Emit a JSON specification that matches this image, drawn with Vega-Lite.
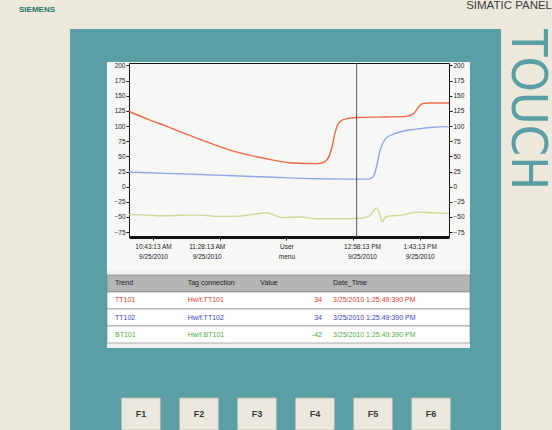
{
  "$schema": "https://vega.github.io/schema/vega-lite/v6.json",
  "background": "#5a9ea6",
  "padding": 0,
  "spacing": 0,
  "config": {
    "font": "Liberation Sans",
    "view": {"stroke": null},
    "concat": {"spacing": 0},
    "axis": {"labelFont": "Liberation Sans", "grid": false}
  },
  "vconcat": [
    {
      "spacing": 0,
      "hconcat": [
        {
          "width": 70,
          "height": 29,
          "view": {"fill": "#ece9dc", "stroke": null},
          "title": {"text": "SIEMENS", "orient": "top", "anchor": "start", "frame": "group", "offset": -20, "dx": 19, "baseline": "alphabetic", "fontSize": 8, "fontWeight": "bold", "color": "#1a7565"},
          "data": {"values": [{}]},
          "mark": {"type": "text", "text": ""},
          "encoding": {}
        },
        {
          "width": 482,
          "height": 29,
          "view": {"fill": "#ece9dc", "stroke": null},
          "title": {"text": "SIMATIC PANEL", "orient": "top", "anchor": "end", "frame": "group", "offset": -20.5, "baseline": "alphabetic", "fontSize": 11.5, "fontWeight": "normal", "color": "#3d3d3d"},
          "data": {"values": [{}]},
          "mark": {"type": "text", "text": ""},
          "encoding": {}
        }
      ]
    },
    {
      "spacing": 0,
      "hconcat": [
        {
          "width": 70,
          "height": 401,
          "view": {"fill": "#ece9dc", "stroke": null},
          "data": {"values": [{}]},
          "mark": {"type": "text", "text": ""},
          "encoding": {}
        },
        {
          "spacing": 0,
          "resolve": {"scale": {"color": "independent", "fill": "independent"}},
          "vconcat": [
            {
              "width": 394,
              "height": 33,
              "data": {"values": [{}]},
              "mark": {"type": "text", "text": ""},
              "encoding": {}
            },
            {
              "width": 363,
              "height": 208,
              "view": {"fill": "#f7f7f5", "stroke": null},
              "layer": [
                {
                  "data": {"values": [
                    {"trend": "TT101", "time": "2010-09-25T10:27:00", "value": 124},
                    {"trend": "TT101", "time": "2010-09-25T10:40:00", "value": 111},
                    {"trend": "TT101", "time": "2010-09-25T10:52:00", "value": 100},
                    {"trend": "TT101", "time": "2010-09-25T11:15:00", "value": 78},
                    {"trend": "TT101", "time": "2010-09-25T11:37:00", "value": 59},
                    {"trend": "TT101", "time": "2010-09-25T12:00:00", "value": 46},
                    {"trend": "TT101", "time": "2010-09-25T12:18:00", "value": 39},
                    {"trend": "TT101", "time": "2010-09-25T12:34:00", "value": 38},
                    {"trend": "TT101", "time": "2010-09-25T12:39:00", "value": 41},
                    {"trend": "TT101", "time": "2010-09-25T12:42:00", "value": 50},
                    {"trend": "TT101", "time": "2010-09-25T12:44:00", "value": 65},
                    {"trend": "TT101", "time": "2010-09-25T12:46:00", "value": 88},
                    {"trend": "TT101", "time": "2010-09-25T12:48:00", "value": 103},
                    {"trend": "TT101", "time": "2010-09-25T12:51:00", "value": 110},
                    {"trend": "TT101", "time": "2010-09-25T12:56:00", "value": 113},
                    {"trend": "TT101", "time": "2010-09-25T13:00:00", "value": 114},
                    {"trend": "TT101", "time": "2010-09-25T13:20:00", "value": 115},
                    {"trend": "TT101", "time": "2010-09-25T13:34:00", "value": 116},
                    {"trend": "TT101", "time": "2010-09-25T13:39:00", "value": 120},
                    {"trend": "TT101", "time": "2010-09-25T13:42:00", "value": 130},
                    {"trend": "TT101", "time": "2010-09-25T13:45:00", "value": 137},
                    {"trend": "TT101", "time": "2010-09-25T13:50:00", "value": 138},
                    {"trend": "TT101", "time": "2010-09-25T14:03:00", "value": 138},
                    {"trend": "TT102", "time": "2010-09-25T10:27:00", "value": 24},
                    {"trend": "TT102", "time": "2010-09-25T10:52:00", "value": 22},
                    {"trend": "TT102", "time": "2010-09-25T11:15:00", "value": 20},
                    {"trend": "TT102", "time": "2010-09-25T11:37:00", "value": 18},
                    {"trend": "TT102", "time": "2010-09-25T12:00:00", "value": 16},
                    {"trend": "TT102", "time": "2010-09-25T12:34:00", "value": 13},
                    {"trend": "TT102", "time": "2010-09-25T13:00:00", "value": 12.5},
                    {"trend": "TT102", "time": "2010-09-25T13:09:00", "value": 12.5},
                    {"trend": "TT102", "time": "2010-09-25T13:12:00", "value": 17},
                    {"trend": "TT102", "time": "2010-09-25T13:14:00", "value": 32},
                    {"trend": "TT102", "time": "2010-09-25T13:16:00", "value": 55},
                    {"trend": "TT102", "time": "2010-09-25T13:18:00", "value": 70},
                    {"trend": "TT102", "time": "2010-09-25T13:21:00", "value": 81},
                    {"trend": "TT102", "time": "2010-09-25T13:26:00", "value": 87},
                    {"trend": "TT102", "time": "2010-09-25T13:31:00", "value": 91},
                    {"trend": "TT102", "time": "2010-09-25T13:41:00", "value": 95},
                    {"trend": "TT102", "time": "2010-09-25T13:52:00", "value": 98},
                    {"trend": "TT102", "time": "2010-09-25T14:03:00", "value": 99},
                    {"trend": "BT101", "time": "2010-09-25T10:27:00", "value": -46},
                    {"trend": "BT101", "time": "2010-09-25T10:40:00", "value": -47},
                    {"trend": "BT101", "time": "2010-09-25T10:52:00", "value": -48},
                    {"trend": "BT101", "time": "2010-09-25T11:05:00", "value": -47},
                    {"trend": "BT101", "time": "2010-09-25T11:15:00", "value": -47},
                    {"trend": "BT101", "time": "2010-09-25T11:27:00", "value": -49},
                    {"trend": "BT101", "time": "2010-09-25T11:37:00", "value": -49},
                    {"trend": "BT101", "time": "2010-09-25T11:50:00", "value": -46},
                    {"trend": "BT101", "time": "2010-09-25T12:00:00", "value": -43},
                    {"trend": "BT101", "time": "2010-09-25T12:05:00", "value": -47},
                    {"trend": "BT101", "time": "2010-09-25T12:11:00", "value": -51},
                    {"trend": "BT101", "time": "2010-09-25T12:23:00", "value": -50},
                    {"trend": "BT101", "time": "2010-09-25T12:34:00", "value": -53},
                    {"trend": "BT101", "time": "2010-09-25T12:45:00", "value": -53},
                    {"trend": "BT101", "time": "2010-09-25T13:03:00", "value": -52},
                    {"trend": "BT101", "time": "2010-09-25T13:09:00", "value": -49},
                    {"trend": "BT101", "time": "2010-09-25T13:12:00", "value": -40},
                    {"trend": "BT101", "time": "2010-09-25T13:14:00", "value": -35},
                    {"trend": "BT101", "time": "2010-09-25T13:16:00", "value": -44},
                    {"trend": "BT101", "time": "2010-09-25T13:18:00", "value": -58},
                    {"trend": "BT101", "time": "2010-09-25T13:20:00", "value": -50},
                    {"trend": "BT101", "time": "2010-09-25T13:24:00", "value": -48},
                    {"trend": "BT101", "time": "2010-09-25T13:31:00", "value": -47},
                    {"trend": "BT101", "time": "2010-09-25T13:41:00", "value": -42},
                    {"trend": "BT101", "time": "2010-09-25T13:52:00", "value": -43},
                    {"trend": "BT101", "time": "2010-09-25T14:03:00", "value": -44}
                  ]},
                  "mark": {"type": "line", "interpolate": "monotone", "strokeWidth": 1.4},
                  "encoding": {
                    "x": {
                      "field": "time", "type": "temporal",
                      "scale": {"domain": [{"year": 2010, "month": 9, "date": 25, "hours": 10, "minutes": 27}, {"year": 2010, "month": 9, "date": 25, "hours": 14, "minutes": 3}], "range": [22, 342]},
                      "axis": {
                        "orient": "bottom", "offset": -33, "title": null,
                        "values": [
                          {"year": 2010, "month": 9, "date": 25, "hours": 10, "minutes": 43, "seconds": 13},
                          {"year": 2010, "month": 9, "date": 25, "hours": 11, "minutes": 28, "seconds": 13},
                          {"year": 2010, "month": 9, "date": 25, "hours": 12, "minutes": 13, "seconds": 13},
                          {"year": 2010, "month": 9, "date": 25, "hours": 12, "minutes": 58, "seconds": 13},
                          {"year": 2010, "month": 9, "date": 25, "hours": 13, "minutes": 43, "seconds": 13}
                        ],
                        "labelExpr": "minutes(datum.value) == 13 ? ['User', 'menu'] : [timeFormat(datum.value, '%-I:%M:%S %p'), timeFormat(datum.value, '%-m/%d/%Y')]",
                        "labelOffset": {"condition": [{"test": "minutes(datum.value) == 28", "value": -13}, {"test": "minutes(datum.value) == 58", "value": 9}], "value": 0},
                        "labelFontSize": 6.5, "labelColor": "#222222", "labelPadding": 3, "labelLineHeight": 10,
                        "labelOverlap": false, "labelFlush": false,
                        "domainColor": "#111111", "domainWidth": 3, "tickColor": "#111111", "tickSize": 3,
                        "minExtent": 0, "maxExtent": 200
                      }
                    },
                    "y": {
                      "field": "value", "type": "quantitative",
                      "scale": {"domain": [-83, 204], "range": [175, 1], "nice": false, "zero": false},
                      "axis": {
                        "orient": "left", "offset": -22, "title": null,
                        "values": [-75, -50, -25, 0, 25, 50, 75, 100, 125, 150, 175, 200],
                        "labelFontSize": 6.5, "labelColor": "#222222", "labelPadding": 1,
                        "domainColor": "#111111", "tickColor": "#111111", "tickSize": 3,
                        "minExtent": 59, "maxExtent": 59
                      }
                    },
                    "color": {
                      "field": "trend", "type": "nominal",
                      "scale": {"domain": ["TT101", "TT102", "BT101"], "range": ["#ee6a45", "#8da6e6", "#cdd694"]},
                      "legend": null
                    }
                  }
                },
                {
                  "data": {"values": [{"time": "2010-09-25T13:00:40"}]},
                  "mark": {"type": "rule", "color": "#555555", "strokeWidth": 1},
                  "encoding": {
                    "x": {
                      "field": "time", "type": "temporal",
                      "axis": {"orient": "top", "offset": -1, "title": null, "labels": false, "ticks": false, "domainColor": "#111111", "domainWidth": 1, "minExtent": 0, "maxExtent": 0}
                    },
                    "y": {
                      "datum": 204, "type": "quantitative",
                      "axis": {
                        "orient": "right", "offset": -21, "title": null,
                        "values": [-75, -50, -25, 0, 25, 50, 75, 100, 125, 150, 175, 200],
                        "labelFontSize": 6.5, "labelColor": "#222222", "labelPadding": 1,
                        "domainColor": "#111111", "tickColor": "#111111", "tickSize": 3,
                        "minExtent": 0, "maxExtent": 200
                      }
                    },
                    "y2": {"datum": -83}
                  }
                }
              ],
              "resolve": {"axis": {"x": "independent", "y": "independent"}}
            },
            {
              "width": 363,
              "height": 78,
              "view": {"fill": "#f1f1ef", "stroke": null},
              "encoding": {
                "y": {
                  "field": "row", "type": "nominal", "sort": null,
                  "scale": {"domain": ["header", "TT101", "TT102", "BT101"], "paddingInner": 0, "paddingOuter": 0.294},
                  "axis": {"labels": false, "ticks": false, "domain": false, "title": null, "minExtent": 37, "maxExtent": 37}
                }
              },
              "layer": [
                {
                  "data": {"values": [{"row": "header"}, {"row": "TT101"}, {"row": "TT102"}, {"row": "BT101"}]},
                  "mark": {"type": "rect", "stroke": "#7a7a7a", "strokeWidth": 0.6},
                  "encoding": {
                    "fill": {"field": "row", "type": "nominal", "scale": {"domain": ["header", "TT101", "TT102", "BT101"], "range": ["#b5b5b5", "#ffffff", "#ffffff", "#ffffff"]}, "legend": null}
                  }
                },
                {
                  "data": {"values": [
                    {"row": "header", "col": "Trend", "text": "Trend"},
                    {"row": "header", "col": "Tag connection", "text": "Tag connection"},
                    {"row": "header", "col": "Value", "text": "Value"},
                    {"row": "header", "col": "Date_Time", "text": "Date_Time"},
                    {"row": "TT101", "col": "Trend", "text": "TT101"},
                    {"row": "TT101", "col": "Tag connection", "text": "Hw/f.TT101"},
                    {"row": "TT101", "col": "Date_Time", "text": "3/25/2010 1:25:49:390 PM"},
                    {"row": "TT102", "col": "Trend", "text": "TT102"},
                    {"row": "TT102", "col": "Tag connection", "text": "Hw/f.TT102"},
                    {"row": "TT102", "col": "Date_Time", "text": "3/25/2010 1:25:49:390 PM"},
                    {"row": "BT101", "col": "Trend", "text": "BT101"},
                    {"row": "BT101", "col": "Tag connection", "text": "Hw/f.BT101"},
                    {"row": "BT101", "col": "Date_Time", "text": "3/25/2010 1:25:49:390 PM"}
                  ]},
                  "mark": {"type": "text", "align": "left", "fontSize": 7},
                  "encoding": {
                    "x": {"field": "col", "type": "nominal", "sort": null, "scale": {"type": "point", "domain": ["Trend", "Tag connection", "Value", "Date_Time"], "range": [8, 226], "padding": 0}, "axis": null},
                    "text": {"field": "text"},
                    "color": {"field": "row", "type": "nominal", "scale": {"domain": ["header", "TT101", "TT102", "BT101"], "range": ["#222222", "#e0402e", "#3c44b8", "#4fae3c"]}, "legend": null}
                  }
                },
                {
                  "data": {"values": [
                    {"row": "TT101", "col": "Date_Time", "value": "34"},
                    {"row": "TT102", "col": "Date_Time", "value": "34"},
                    {"row": "BT101", "col": "Date_Time", "value": "-42"}
                  ]},
                  "mark": {"type": "text", "align": "right", "dx": -11, "fontSize": 7},
                  "encoding": {
                    "x": {"field": "col", "type": "nominal", "sort": null, "axis": null},
                    "text": {"field": "value"},
                    "color": {"field": "row", "type": "nominal", "legend": null}
                  }
                }
              ]
            },
            {
              "width": 394,
              "height": 32,
              "data": {"values": [{"key": "F1"}, {"key": "F2"}, {"key": "F3"}, {"key": "F4"}, {"key": "F5"}, {"key": "F6"}]},
              "encoding": {
                "x": {
                  "field": "key", "type": "nominal", "sort": null,
                  "scale": {"paddingInner": 0.33, "paddingOuter": 0.561, "align": 0.223},
                  "axis": {"orient": "top", "labels": false, "ticks": false, "domain": false, "title": null, "minExtent": 50, "maxExtent": 50}
                }
              },
              "layer": [
                {"mark": {"type": "rect", "fill": "#ebe9dd", "stroke": "#b9b7aa", "strokeWidth": 0.8}},
                {"mark": {"type": "text", "fontSize": 9, "fontWeight": "bold", "color": "#3a3a3a"}, "encoding": {"text": {"field": "key"}}}
              ]
            }
          ]
        },
        {
          "width": 51,
          "height": 401,
          "view": {"fill": "#ece9dc", "stroke": null},
          "data": {"values": [{"label": "TOUCH"}]},
          "mark": {"type": "text", "angle": 90, "align": "left", "baseline": "middle", "font": "DejaVu Sans Condensed", "fontSize": 50, "color": "#5a9ea6"},
          "encoding": {
            "text": {"field": "label"},
            "y": {"field": "label", "type": "nominal", "scale": {"type": "point", "padding": 0, "align": 0}, "axis": null}
          }
        }
      ]
    }
  ]
}
